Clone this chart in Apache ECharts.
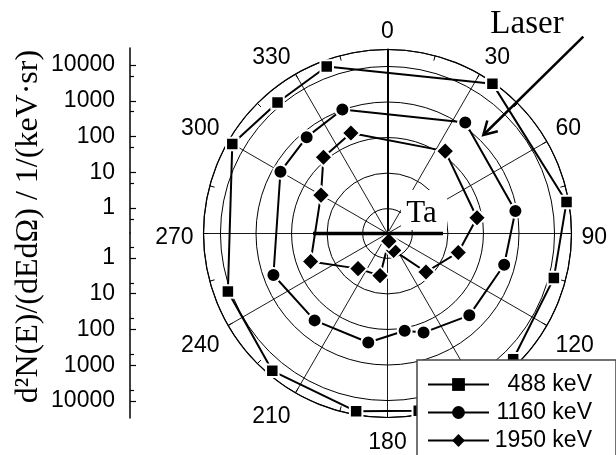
<!DOCTYPE html>
<html><head><meta charset="utf-8">
<script src="https://cdn.jsdelivr.net/npm/echarts@6/dist/echarts.min.js"></script>
<style>html,body{margin:0;padding:0;background:#fff}#c{width:616px;height:455px}</style>
</head><body><div id="c"></div>
<script>
// ---- data ----
const angles = [35, 80, 105, 135, 160, 170, 190, 220, 250, 300, 320, 340];
const e488 = [28000, 26000, 14000, 20000, 20000, 23000, 24000, 22000, 12000, 22000, 13000, 20000];
const e1160 = [1300, 900, 500, 360, 185, 120, 260, 310, 520, 600, 690, 1030];
const e1950 = [135, 72, 23, 6.8, 0.64, 0.33, 3.2, 3.9, 40, 29, 127, 205];
const seriesNames = ['488 keV', '1160 keV', '1950 keV'];
const seriesSymbols = ['rect', 'circle', 'diamond'];
const radialTicks = [1, 10, 100, 1000, 10000];
const radialMinorTicks = [0.5, 5, 50, 500, 5000];

const SANS = 'Liberation Sans';
const SERIF = 'Liberation Serif';

function loop(vals) {
  const d = angles.map((a, i) => [vals[i], a]);
  d.push(d[0]); // close the curve
  return d;
}
const symbolSizes = {rect: 12.5, circle: 14, diamond: 18};
const allVals = [e488, e1160, e1950];

const series = seriesNames.map((n, k) => ({
  type: 'line', name: n, coordinateSystem: 'polar', polarIndex: 0,
  data: loop(allVals[k]),
  symbol: seriesSymbols[k], symbolSize: symbolSizes[seriesSymbols[k]],
  lineStyle: {color: '#000', width: 2},
  itemStyle: {color: '#000', borderColor: '#fff', borderWidth: 2},
  z: 3, animation: false
}));

function leftAxis(gridIndex, inverse, minor) {
  return {
    gridIndex, type: 'log', logBase: 10, min: 0.2, max: 30000, inverse,
    position: 'left', offset: 0,
    axisLine: {show: !minor, onZero: false, lineStyle: {color: '#000', width: 1.5}},
    axisTick: {show: true, inside: true, length: minor ? 4 : 6,
      customValues: minor ? radialMinorTicks : radialTicks,
      lineStyle: {color: '#000', width: 1.2}},
    axisLabel: minor ? {show: false} : {show: true, customValues: radialTicks, margin: 15,
      padding: [6, 0, 0, 0],
      fontSize: 23, fontFamily: SANS, color: '#000', formatter: v => String(Math.round(v))},
    splitLine: {show: false}
  };
}

const chart = echarts.init(document.getElementById('c'), null, {renderer: 'canvas'});
chart.setOption({
  animation: false,
  backgroundColor: '#fff',
  polar: [
    {center: [387.5, 233.5], radius: 184},
    {center: [387.5, 237.5], radius: 184}
  ],
  angleAxis: [{
    polarIndex: 0,
    type: 'value', min: 0, max: 360, interval: 30, startAngle: 90, clockwise: true,
    axisLine: {show: true, lineStyle: {color: '#000', width: 1.2}},
    axisTick: {show: true, inside: true, length: 5, lineStyle: {color: '#000'}},
    minorTick: {show: true, splitNumber: 2, length: 5, lineStyle: {color: '#000'}},
    axisLabel: {show: false},
    splitLine: {show: true, lineStyle: {color: '#000', width: 0.9}}
  }, {
    polarIndex: 1,
    type: 'value', min: 0, max: 360, interval: 30, startAngle: 90, clockwise: true,
    axisLine: {show: false}, axisTick: {show: false}, minorTick: {show: false},
    splitLine: {show: false},
    axisLabel: {show: true, margin: 10, fontSize: 23, fontFamily: SANS, color: '#000'}
  }],
  radiusAxis: [{
    polarIndex: 0,
    type: 'log', logBase: 10, min: 0.2, max: 30000,
    axisLine: {show: true, lineStyle: {color: '#000', width: 2}},
    axisTick: {show: false}, axisLabel: {show: false},
    splitLine: {show: true, lineStyle: {color: '#000', width: 1}}
  }, {
    polarIndex: 1,
    type: 'log', logBase: 10, min: 0.2, max: 30000,
    axisLine: {show: false}, axisTick: {show: false}, axisLabel: {show: false},
    splitLine: {show: false}
  }],
  grid: [
    {left: 130, top: 48, width: 10, height: 185},
    {left: 130, top: 233, width: 10, height: 185}
  ],
  xAxis: [{gridIndex: 0, type: 'value', show: false}, {gridIndex: 1, type: 'value', show: false}],
  yAxis: [leftAxis(0, false, false), leftAxis(0, false, true), leftAxis(1, true, false), leftAxis(1, true, true)],
  legend: {
    data: seriesNames, orient: 'vertical', left: 417, top: 360, height: 300,
    padding: [13, 24, 20, 10], itemGap: 5, itemWidth: 61, itemHeight: 16,
    backgroundColor: '#fff', borderColor: '#444', borderWidth: 1.5, borderRadius: 0,
    selectedMode: false,
    itemStyle: {borderWidth: 0},
    formatter: n => '{a|' + n + '}',
    textStyle: {color: '#000', fontSize: 23, fontFamily: SANS,
      rich: {a: {width: 98, align: 'right', fontSize: 23, fontFamily: SANS, color: '#000'}}}
  },
  graphic: [
    {type: 'rect', shape: {x: 401, y: 190, width: 46, height: 40}, style: {fill: '#fff'}, z: 5},
    {type: 'text', x: 421.5, y: 213.7, z: 7,
      style: {text: 'Ta', fontSize: 31, fontFamily: SERIF, fill: '#000', align: 'center', verticalAlign: 'middle'}},
    {type: 'line', shape: {x1: 313, y1: 233.5, x2: 443, y2: 233.5}, style: {stroke: '#000', lineWidth: 3.5}, z: 7},
    {type: 'text', x: 527, y: 24, z: 7,
      style: {text: 'Laser', fontSize: 33, fontFamily: SERIF, fill: '#000', align: 'center', verticalAlign: 'middle'}},
    {type: 'line', shape: {x1: 583.3, y1: 36.7, x2: 483.8, y2: 134.5}, style: {stroke: '#000', lineWidth: 2.5}, z: 7},
    {type: 'polyline', shape: {points: [[487.3, 120.5], [483.3, 135], [497.8, 131.2]]},
      style: {stroke: '#000', lineWidth: 2.5, fill: null}, z: 7},
    {type: 'text', x: 29, y: 226.5, rotation: Math.PI / 2, z: 7,
      style: {text: 'd²N(E)/(dEdΩ) / 1/(keV·sr)', fontSize: 32, fontFamily: SERIF, fill: '#000',
        align: 'center', verticalAlign: 'middle'}}
  ],
  series
});
</script></body></html>
